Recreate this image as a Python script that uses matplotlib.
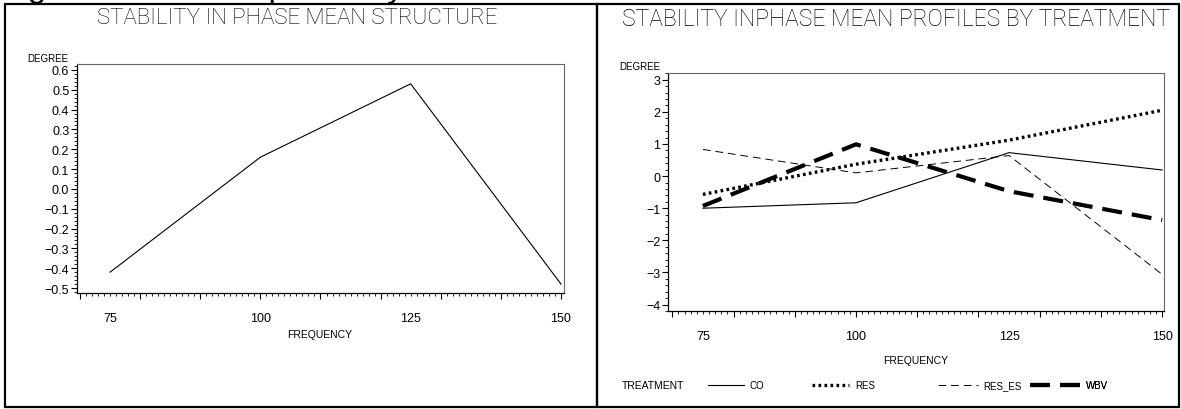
import matplotlib
matplotlib.use('Agg')
import matplotlib.pyplot as plt
from matplotlib.patches import Rectangle
from matplotlib.ticker import MultipleLocator, FuncFormatter

# ---- data ----
frequency = [75, 100, 125, 150]
mean_degree = [-0.42, 0.16, 0.53, -0.48]

treatments = ['CO', 'RES', 'RES_ES', 'WBV']
co = [-1.00, -0.83, 0.73, 0.19]
res = [-0.57, 0.37, 1.12, 2.05]
res_es = [0.83, 0.10, 0.64, -3.06]
wbv = [-0.93, 0.99, -0.47, -1.37]

freq_labels = ['75', '100', '125', '150']

W, H = 1181, 410
fig = plt.figure(figsize=(W / 100, H / 100), dpi=100)

title_font = ['Roboto', 'Liberation Sans', 'DejaVu Sans']
caption_font = ['Liberation Sans', 'DejaVu Sans']
small_font = ['Liberation Sans', 'DejaVu Sans']
tick_font = ['Liberation Sans', 'DejaVu Sans']


def fx(px):
    return px / W


def fy(py):
    return 1 - py / H


# clipped caption above the panels (only descenders visible)
fig.text(0.0, fy(-3), 'Figure 2. Mean in phase by treatment', fontsize=24,
         family=caption_font, va='baseline', ha='left')

# panel frames
for x0, x1 in [(5, 597), (597, 1179)]:
    fig.add_artist(Rectangle((fx(x0), fy(408)), fx(x1) - fx(x0), fy(5) - fy(408),
                             transform=fig.transFigure, fill=False,
                             edgecolor='black', linewidth=1.6))


def style_axes(ax, ymajor, yminor, ndec):
    ax.spines['top'].set_color('#666666')
    ax.spines['right'].set_color('#666666')
    ax.spines['top'].set_linewidth(0.8)
    ax.spines['right'].set_linewidth(0.8)
    ax.spines['left'].set_linewidth(0.9)
    ax.spines['bottom'].set_linewidth(0.9)
    ax.xaxis.set_major_locator(MultipleLocator(10))
    ax.xaxis.set_minor_locator(MultipleLocator(1))
    ax.xaxis.set_major_formatter(plt.NullFormatter())
    ax.yaxis.set_major_locator(MultipleLocator(ymajor))
    ax.yaxis.set_minor_locator(MultipleLocator(yminor))
    ax.yaxis.set_major_formatter(
        FuncFormatter(lambda v, p: f'{v:.{ndec}f}'.replace('-', '\u2212')))
    ax.tick_params(which='major', direction='out', length=4.5, width=0.8)
    ax.tick_params(which='minor', direction='out', length=2.2, width=0.6)
    ax.tick_params(axis='y', labelsize=9, pad=1)
    for lab in ax.get_yticklabels():
        lab.set_family(tick_font)
    # frequency labels through a secondary axis
    sec = ax.secondary_xaxis('bottom')
    sec.set_xticks([int(v) for v in freq_labels], freq_labels)
    sec.tick_params(length=0, labelsize=9, pad=14)
    sec.spines['bottom'].set_visible(False)
    for lab in sec.get_xticklabels():
        lab.set_family(tick_font)


# ---- left panel ----
ax1 = fig.add_axes([fx(77), fy(294), fx(564) - fx(77), fy(65) - fy(294)])
ax1.plot(frequency, mean_degree, color='black', linewidth=0.8)
ax1.set_xlim(69.5, 150.5)
ax1.set_ylim(-0.525, 0.63)
style_axes(ax1, 0.1, 0.02, 1)
fig.text(fx(48), fy(59), 'DEGREE', fontsize=7, family=small_font, ha='center', va='center')
fig.text(fx(320), fy(335), 'FREQUENCY', fontsize=7.5, family=small_font, ha='center', va='center')
fig.text(fx(297), fy(19), 'STABILITY IN PHASE MEAN STRUCTURE', fontsize=16,
         family=title_font, weight='light', ha='center', va='center', color='black')

# ---- right panel ----
ax2 = fig.add_axes([fx(668), fy(312), fx(1164) - fx(668), fy(74) - fy(312)])
series = [co, res, res_es, wbv]
styles = [
    dict(linestyle='-', linewidth=0.8),
    dict(linestyle=(0, (0.8, 1.0)), linewidth=2.4),
    dict(linestyle=(0, (8, 5)), linewidth=0.7),
    dict(linestyle=(0, (4.8, 2.4)), linewidth=3.0),
]
lines = []
for name, vals, st in zip(treatments, series, styles):
    ln, = ax2.plot(frequency, vals, color='black', label=name, **st)
    lines.append(ln)
ax2.set_xlim(69.3, 150.3)
ax2.set_ylim(-4.2, 3.21)
style_axes(ax2, 1, 0.2, 0)
fig.text(fx(640), fy(67), 'DEGREE', fontsize=7, family=small_font, ha='center', va='center')
fig.text(fx(916), fy(361), 'FREQUENCY', fontsize=7.5, family=small_font, ha='center', va='center')
fig.text(fx(896), fy(19), 'STABILITY INPHASE MEAN PROFILES BY TREATMENT', fontsize=16.5,
         family=title_font, weight='light', ha='center', va='center', color='black')

# legend row: one small legend per treatment, placed like the reference
fig.text(fx(622), fy(386), 'TREATMENT', fontsize=7.5, family=small_font, ha='left', va='center')
legend_x = [708, 812, 938, 1030]
handle_len = [3.7, 3.8, 4.1, 5.15]
for ln, x0, hl in zip(lines, legend_x, handle_len):
    leg = ax2.legend([ln], [ln.get_label()], loc='center left',
                     bbox_to_anchor=(fx(x0), fy(386)), bbox_transform=fig.transFigure,
                     frameon=False, handlelength=hl, handletextpad=0.6,
                     borderpad=0, borderaxespad=0,
                     prop={'family': small_font, 'size': 7})
    ax2.add_artist(leg)

fig.savefig('out.png', dpi=100)
